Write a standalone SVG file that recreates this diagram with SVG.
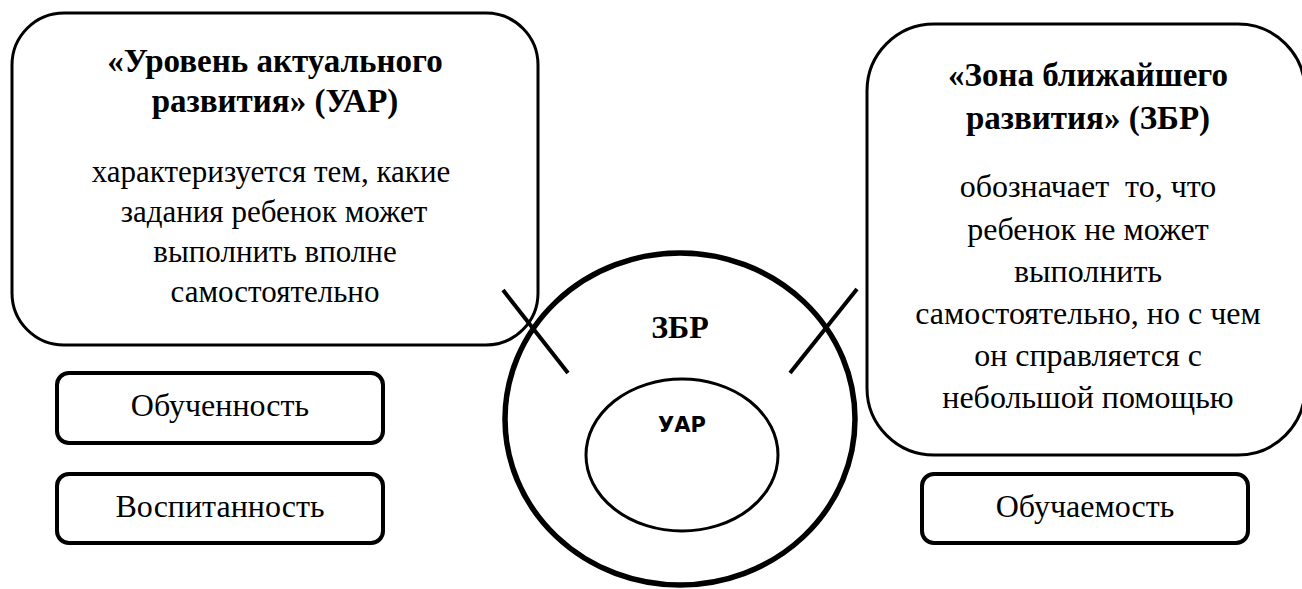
<svg xmlns="http://www.w3.org/2000/svg" width="1302" height="589" viewBox="0 0 1302 589">
<style>
.box{fill:#fff;stroke:#000;stroke-width:3}
.small{fill:#fff;stroke:#000;stroke-width:4}
.t{font-family:'Liberation Serif','Times New Roman','DejaVu Serif',serif;font-size:31px;fill:#000;text-anchor:middle}
.r{font-size:32px}
.b{font-weight:bold;font-size:33px}
.s{font-family:'DejaVu Sans','Liberation Sans',sans-serif;font-size:21px;font-weight:bold;fill:#000;text-anchor:middle}
.ln{stroke:#000;stroke-width:4;fill:none}
</style>
<rect width="1302" height="589" fill="#fff"/>
<g id="uar-box">
<rect class="box" x="12" y="13" width="526" height="332" rx="52"/>
<text class="t b" x="275" y="72">«Уровень актуального</text>
<text class="t b" x="275" y="112">развития» (УАР)</text>
<text class="t" x="271" y="182">характеризуется тем, какие</text>
<text class="t" x="274" y="222">задания ребенок может</text>
<text class="t" x="275" y="262">выполнить вполне</text>
<text class="t" x="275" y="302">самостоятельно</text>
</g>
<g id="zbr-box">
<rect class="box" x="867" y="24" width="438" height="431" rx="67"/>
<text class="t b" x="1088" y="86">«Зона ближайшего</text>
<text class="t b" x="1088" y="129">развития» (ЗБР)</text>
<text class="t r" x="1088" y="197" xml:space="preserve">обозначает  то, что</text>
<text class="t r" x="1088" y="240">ребенок не может</text>
<text class="t r" x="1088" y="282">выполнить</text>
<text class="t r" x="1088" y="324">самостоятельно, но с чем</text>
<text class="t r" x="1088" y="366">он справляется с</text>
<text class="t r" x="1088" y="408">небольшой помощью</text>
</g>
<g id="obuchennost">
<rect class="small" x="57" y="373" width="326" height="70" rx="12"/>
<text class="t r" x="220" y="416">Обученность</text>
</g>
<g id="vospitannost">
<rect class="small" x="57" y="474" width="326" height="69" rx="12"/>
<text class="t r" x="220" y="517">Воспитанность</text>
</g>
<g id="obuchaemost">
<rect class="small" x="922" y="474" width="326" height="69" rx="12"/>
<text class="t r" x="1085" y="517">Обучаемость</text>
</g>
<g id="zbr-circle">
<ellipse cx="680" cy="419" rx="175" ry="166" fill="none" stroke="#000" stroke-width="5.5"/>
<text class="t" x="680" y="338" style="font-weight:bold;font-size:32px">ЗБР</text>
</g>
<g id="uar-circle">
<ellipse cx="682" cy="455" rx="96" ry="76" fill="none" stroke="#000" stroke-width="3"/>
<text class="s" x="682" y="432">УАР</text>
</g>
<g id="connectors">
<line class="ln" x1="503" y1="290" x2="568" y2="373"/>
<line class="ln" x1="857" y1="289" x2="790" y2="373"/>
</g>
</svg>
